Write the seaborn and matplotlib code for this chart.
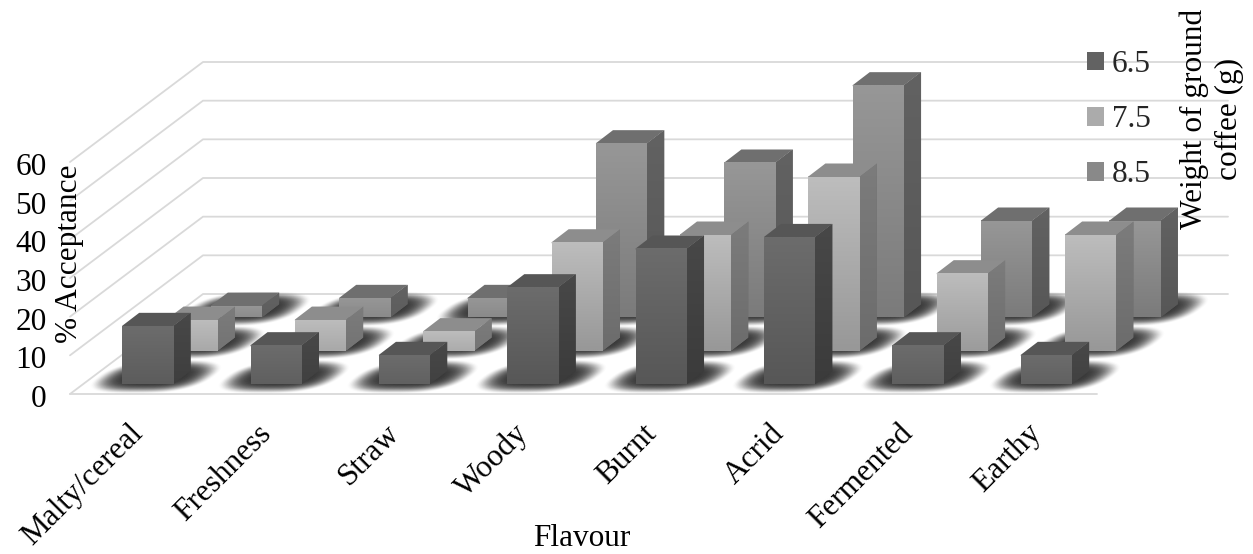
import numpy as np
import pandas as pd
import seaborn as sns
import matplotlib
matplotlib.use("Agg")
import matplotlib.pyplot as plt
from matplotlib.colors import to_rgb
from matplotlib.patches import Patch, Polygon
from matplotlib.transforms import Affine2D, IdentityTransform

flavours = ["Malty/cereal", "Freshness", "Straw", "Woody", "Burnt", "Acrid", "Fermented", "Earthy"]
weights = ["6.5", "7.5", "8.5"]
acceptance_65 = [15, 10, 7.5, 25, 35, 38, 10, 7.5]
acceptance_75 = [8, 8, 5, 28, 30, 45, 20, 30]
acceptance_85 = [3, 5, 5, 45, 40, 60, 25, 25]
y_ticks = [0, 10, 20, 30, 40, 50, 60]

W, H, DPI = 1253, 554, 100
FONT_SIZE = 22.5

# Oblique projection, in pixels: total floor depth and one bar's depth.
FLOOR_DX, FLOOR_DY = 133.0, 100.0
WALL_RIGHT_DX = 131.0
BAR_DX, BAR_DY = 17.0, 13.0
BAR_WIDTH = 0.40

FACE_STYLES = {
    "6.5": dict(front=("#6c6c6c", "#575757"), side=("#484848", "#3b3b3b"), top="#565656"),
    "7.5": dict(front=("#bdbdbd", "#989898"), side=("#7c7c7c", "#6c6c6c"), top="#8d8d8d"),
    "8.5": dict(front=("#979797", "#7b7b7b"), side=("#626262", "#575757"), top="#6f6f6f"),
}
SERIES = {"6.5": acceptance_65, "7.5": acceptance_75, "8.5": acceptance_85}

sns.set_theme(style="white")
plt.rcParams["font.family"] = ["Liberation Serif", "DejaVu Serif"]

fig = plt.figure(figsize=(W / DPI, H / DPI), dpi=DPI)
ax = fig.add_axes([70 / W, (H - 394) / H, 1027 / W, 232 / H])
ax.patch.set_alpha(0)
for spine in ax.spines.values():
    spine.set_visible(False)


def blend(c0, c1, t):
    return tuple(np.array(to_rgb(c0)) * (1 - t) + np.array(to_rgb(c1)) * t)


def gradient_fill(poly_xy, top_colour, bottom_colour, zorder):
    """Paint a polygon given in display pixels with a vertical gradient."""
    poly_xy = np.asarray(poly_xy)
    poly = Polygon(poly_xy, closed=True, transform=IdentityTransform(), clip_on=False,
                   facecolor=bottom_colour, edgecolor="none", zorder=zorder)
    ax.add_patch(poly)
    ramp = np.linspace(0, 1, 64)[:, None, None]
    img = (1 - ramp) * np.array(to_rgb(top_colour)) + ramp * np.array(to_rgb(bottom_colour))
    im = ax.imshow(img, aspect="auto", interpolation="bilinear",
                   extent=(poly_xy[:, 0].min(), poly_xy[:, 0].max(),
                           poly_xy[:, 1].min(), poly_xy[:, 1].max()),
                   transform=IdentityTransform(), zorder=zorder + 0.01)
    im.set_clip_box(fig.bbox)
    im.set_clip_path(poly)


def floor_shadow(x0, x1, y0, zorder):
    """Soft rounded shadow under a bar, sheared along the floor's receding direction."""
    width = x1 - x0
    cu, cv = width / 2 - 2, BAR_DY / 2 + 1
    hu, hv = width / 2 + 33, BAR_DY / 2 + 11
    nx, ny = 160, 60
    u = np.linspace(cu - hu, cu + hu, nx)
    v = np.linspace(cv - hv, cv + hv, ny)
    uu, vv = np.meshgrid((u - cu) / hu, (v - cv) / hv)
    r = np.abs(uu) ** 3 + np.abs(vv) ** 2.4
    t = np.clip((1 - r) / 0.95, 0, 1)
    rgba = np.zeros((ny, nx, 4))
    rgba[..., :3] = 0.2
    rgba[..., 3] = 0.98 * t * t * (3 - 2 * t)
    shear = Affine2D.from_values(1, 0, BAR_DX / BAR_DY, 1, x0, y0)
    im = ax.imshow(rgba, origin="lower", aspect="auto", interpolation="bilinear",
                   extent=(u[0], u[-1], v[0], v[-1]), transform=shear, zorder=zorder)
    im.set_clip_box(fig.bbox)


ax.set_xlim(-0.5, len(flavours) - 0.5)
ax.set_ylim(0, 60)
ax.set_autoscale_on(False)

frame = pd.DataFrame({"flavour": flavours})
n_series = len(weights)
bar_records = []
# Back row first so nearer rows paint over it.
for order, weight in enumerate(reversed(weights)):
    k = n_series - 1 - order
    frame["value"] = SERIES[weight]
    before = len(ax.patches)
    sns.barplot(data=frame, x="flavour", y="value", order=flavours, color=FACE_STYLES[weight]["front"][0],
                width=BAR_WIDTH, saturation=1, errorbar=None, ax=ax, zorder=2)
    bar_records.append((k, weight, list(ax.patches[before:])))

ax.set_xlim(-0.5, len(flavours) - 0.5)
ax.set_ylim(0, 60)
ax.set_autoscale_on(False)
fig.canvas.draw()

grid_colour = "#d9d9d9"
grid_lw = 1.3
x_left, _ = ax.transData.transform((-0.5, 0))
x_right, _ = ax.transData.transform((len(flavours) - 0.5, 0))
for value in y_ticks:
    _, yv = ax.transData.transform((0, value))
    ax.plot([x_left, x_left + FLOOR_DX, x_right + WALL_RIGHT_DX],
            [yv, yv + FLOOR_DY, yv + FLOOR_DY],
            transform=IdentityTransform(), color=grid_colour, lw=grid_lw, zorder=0.5, clip_on=False)
_, y_zero = ax.transData.transform((0, 0))
ax.plot([x_left, x_right], [y_zero, y_zero],
        transform=IdentityTransform(), color=grid_colour, lw=grid_lw, zorder=0.5, clip_on=False)

for k, weight, bars in bar_records:
    gap_dx = (FLOOR_DX / n_series - BAR_DX) / 2
    gap_dy = (FLOOR_DY / n_series - BAR_DY) / 2
    off_x = gap_dx + k * FLOOR_DX / n_series
    off_y = gap_dy + k * FLOOR_DY / n_series
    style = FACE_STYLES[weight]
    z_base = 3 + (n_series - k) * 2
    for bar in bars:
        (x0, y0), (x1, y1) = ax.transData.transform(
            [(bar.get_x(), 0), (bar.get_x() + bar.get_width(), bar.get_height())])
        x0, x1 = x0 + off_x, x1 + off_x
        y0, y1 = y0 + off_y, y1 + off_y
        floor_shadow(x0, x1, y0, zorder=1)

        # Taller bars show more of the lighting falloff down their faces.
        fade = min(1.0, 0.3 + (y1 - y0) / 130)
        bar.set_transform(ax.transData + Affine2D().translate(off_x, off_y))
        bar.set_clip_on(False)
        bar.set_edgecolor("none")
        bar.set_zorder(z_base)
        # Side and top go down first and run slightly under the front face, so no seam shows.
        gradient_fill([(x1 - 1, y0), (x1, y0), (x1 + BAR_DX, y0 + BAR_DY), (x1 + BAR_DX, y1 + BAR_DY),
                       (x1, y1), (x1 - 1, y1)],
                      style["side"][0], blend(style["side"][0], style["side"][1], fade), z_base + 0.1)
        ax.add_patch(Polygon([(x0, y1 - 1), (x1, y1 - 1), (x1, y1), (x1 + BAR_DX, y1 + BAR_DY),
                              (x0 + BAR_DX, y1 + BAR_DY), (x0, y1)],
                             closed=True, transform=IdentityTransform(), facecolor=style["top"],
                             edgecolor="none", zorder=z_base + 0.2, clip_on=False))
        gradient_fill([(x0, y0), (x1, y0), (x1, y1), (x0, y1)],
                      style["front"][0], blend(style["front"][0], style["front"][1], fade), z_base + 0.3)

ax.set_xlabel("")
ax.set_ylabel("")
ax.set_yticks(y_ticks)
ax.set_yticklabels([str(v) for v in y_ticks])
ax.tick_params(axis="y", length=0, pad=17, labelsize=FONT_SIZE, labelcolor="black")
ax.tick_params(axis="x", length=0, pad=18, labelsize=FONT_SIZE, labelcolor="black")
for label in ax.get_yticklabels():
    label.set_transform(label.get_transform() + Affine2D().translate(0, -2))
for label in ax.get_xticklabels():
    label.set_rotation(45)
    label.set_ha("right")
    label.set_va("top")
    label.set_rotation_mode("anchor")
    label.set_transform(label.get_transform() + Affine2D().translate(-6, 0))

fig.text(582 / W, 1 - 538 / H, "Flavour", ha="center", va="center", fontsize=FONT_SIZE, color="black")
fig.text(70 / W, 1 - 254 / H, "% Acceptance", ha="center", va="center", rotation=90,
         fontsize=FONT_SIZE, color="black")
fig.text(1212 / W, 1 - 119 / H, "Weight of ground\ncoffee (g)", ha="center", va="center", rotation=90,
         fontsize=FONT_SIZE, linespacing=1.25, color="black", zorder=20)

handles = [Patch(facecolor=blend(*FACE_STYLES[w]["front"], 0.5), edgecolor="none", label=w) for w in weights]
legend = fig.legend(handles=handles, loc="upper left", bbox_to_anchor=(1087 / W, 1 - 50 / H),
                    frameon=False, borderaxespad=0, borderpad=0, fontsize=FONT_SIZE,
                    handlelength=0.55, handleheight=0.55, handletextpad=0.25, labelspacing=0.84)

fig.savefig("out.png", dpi=DPI, facecolor="white")
